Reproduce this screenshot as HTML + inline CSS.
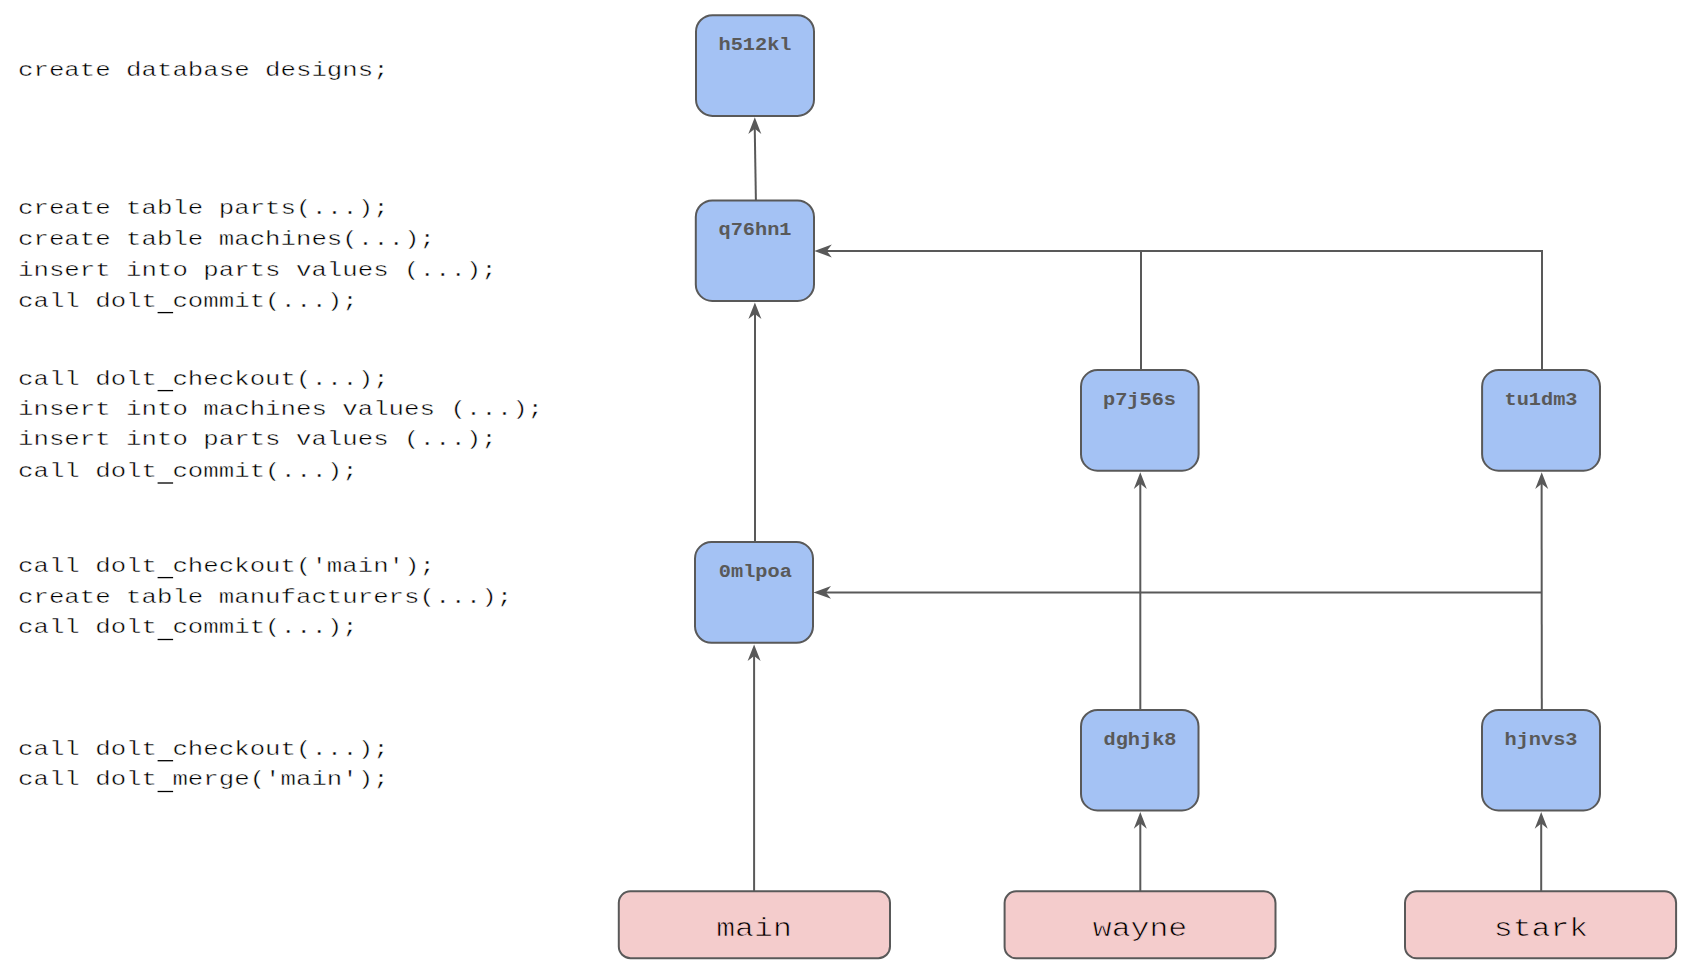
<!DOCTYPE html>
<html>
<head>
<meta charset="utf-8">
<style>
html,body{margin:0;padding:0;background:#fff;}
body{width:1696px;height:980px;overflow:hidden;position:relative;}
svg{position:absolute;left:0;top:0;}
.code{font-family:"Liberation Mono",monospace;font-size:25.75px;fill:#000;stroke:#fff;stroke-width:0.5px;}
.lbl{font-family:"Liberation Mono",monospace;font-size:20.3px;font-weight:bold;fill:#595959;}
.br{font-family:"Liberation Mono",monospace;font-size:31.5px;fill:#000;stroke:#f4cccc;stroke-width:0.8px;}
.node{fill:#a4c2f4;stroke:#595959;stroke-width:2;}
.bnode{fill:#f4cccc;stroke:#595959;stroke-width:2;}
.ln{stroke:#595959;stroke-width:2;fill:none;}
.ah{fill:#595959;stroke:none;}
</style>
</head>
<body>
<svg width="1696" height="980" viewBox="0 0 1696 980">
  <g class="code">
    <text transform="translate(18,75.8) scale(1,0.82)">create database designs;</text>
    <text transform="translate(18,214.3) scale(1,0.82)">create table parts(...);</text>
    <text transform="translate(18,245.2) scale(1,0.82)">create table machines(...);</text>
    <text transform="translate(18,276.0) scale(1,0.82)">insert into parts values (...);</text>
    <text transform="translate(18,306.5) scale(1,0.82)">call dolt&#160;commit(...);</text>
    <text transform="translate(18,384.5) scale(1,0.82)">call dolt&#160;checkout(...);</text>
    <text transform="translate(18,415.2) scale(1,0.82)">insert into machines values (...);</text>
    <text transform="translate(18,445.1) scale(1,0.82)">insert into parts values (...);</text>
    <text transform="translate(18,476.9) scale(1,0.82)">call dolt&#160;commit(...);</text>
    <text transform="translate(18,571.5) scale(1,0.82)">call dolt&#160;checkout('main');</text>
    <text transform="translate(18,602.7) scale(1,0.82)">create table manufacturers(...);</text>
    <text transform="translate(18,633.4) scale(1,0.82)">call dolt&#160;commit(...);</text>
    <text transform="translate(18,754.6) scale(1,0.82)">call dolt&#160;checkout(...);</text>
    <text transform="translate(18,785.4) scale(1,0.82)">call dolt&#160;merge('main');</text>
  </g>

  <g fill="#000">
    <rect x="157.6" y="311.95" width="15.5" height="1.3"/>
    <rect x="157.6" y="389.95" width="15.5" height="1.3"/>
    <rect x="157.6" y="482.35" width="15.5" height="1.3"/>
    <rect x="157.6" y="576.95" width="15.5" height="1.3"/>
    <rect x="157.6" y="638.85" width="15.5" height="1.3"/>
    <rect x="157.6" y="760.05" width="15.5" height="1.3"/>
    <rect x="157.6" y="790.85" width="15.5" height="1.3"/>
  </g>

  <!-- lines -->
  <g class="ln">
    <line x1="755.9" y1="200.4" x2="754.7" y2="125"/>
    <line x1="755" y1="542" x2="755" y2="310"/>
    <line x1="754.1" y1="891.2" x2="754.1" y2="652"/>
    <line x1="1140.3" y1="709.9" x2="1140.3" y2="480"/>
    <line x1="1140.3" y1="891.2" x2="1140.3" y2="819"/>
    <line x1="1541.8" y1="710" x2="1541.6" y2="480"/>
    <line x1="1541.2" y1="891.2" x2="1541.2" y2="819"/>
    <line x1="1141" y1="370" x2="1141" y2="251"/>
    <polyline points="1542,370 1542,251 822,251"/>
    <polyline points="1542,592.4 821,592.4"/>
  </g>

  <!-- nodes -->
  <rect class="node" x="696" y="15.2" width="118" height="100.7" rx="16.5" ry="16.5"/>
  <rect class="node" x="695.8" y="200.4" width="118.2" height="100.6" rx="16.5" ry="16.5"/>
  <rect class="node" x="695" y="542" width="118" height="100.8" rx="16.5" ry="16.5"/>
  <rect class="node" x="1081" y="370" width="117.6" height="100.7" rx="16.5" ry="16.5"/>
  <rect class="node" x="1482.1" y="370" width="117.9" height="100.7" rx="16.5" ry="16.5"/>
  <rect class="node" x="1081" y="709.9" width="117.5" height="100.6" rx="16.5" ry="16.5"/>
  <rect class="node" x="1482" y="710" width="118" height="100.5" rx="16.5" ry="16.5"/>

  <rect class="bnode" x="618.8" y="891.2" width="271.2" height="67.0" rx="11.6" ry="11.6"/>
  <rect class="bnode" x="1004.6" y="891.3" width="270.9" height="67.0" rx="11.6" ry="11.6"/>
  <rect class="bnode" x="1405" y="891.3" width="271.1" height="67.0" rx="11.6" ry="11.6"/>

  <!-- arrowheads -->
  <g class="ah">
    <path d="M754.8,117.3 L761.3,133.9 L754.8,128.8 L748.3,133.9 Z"/>
    <path d="M754.9,302.4 L761.4,319.0 L754.9,313.9 L748.4,319.0 Z"/>
    <path d="M754.1,644.4 L760.6,661.0 L754.1,655.9 L747.6,661.0 Z"/>
    <path d="M1140.3,472.3 L1146.8,488.9 L1140.3,483.8 L1133.8,488.9 Z"/>
    <path d="M1140.3,812.1 L1146.8,828.7 L1140.3,823.6 L1133.8,828.7 Z"/>
    <path d="M1541.7,472.3 L1548.2,488.9 L1541.7,483.8 L1535.2,488.9 Z"/>
    <path d="M1541.2,812.1 L1547.7,828.7 L1541.2,823.6 L1534.7,828.7 Z"/>
    <path d="M814.3,251.0 L831.8,244.6 L826.8,251.0 L831.8,257.4 Z"/>
    <path d="M813.5,592.4 L831.0,586.0 L826.0,592.4 L831.0,598.8 Z"/>
  </g>

  <g class="lbl" text-anchor="middle">
    <text transform="translate(755,234.9) scale(1,0.86)">q76hn1</text>
    <text transform="translate(755,49.9) scale(1,0.86)">h512kl</text>
    <text transform="translate(755.3,576.7) scale(1,0.86)">0mlpoa</text>
    <text transform="translate(1139.5,405) scale(1,0.86)">p7j56s</text>
    <text transform="translate(1541,405) scale(1,0.86)">tu1dm3</text>
    <text transform="translate(1140,745) scale(1,0.86)">dghjk8</text>
    <text transform="translate(1541,745) scale(1,0.86)">hjnvs3</text>
  </g>
  <g class="br" text-anchor="middle">
    <text transform="translate(754,936) scale(1,0.8)">main</text>
    <text transform="translate(1140,936) scale(1,0.8)">wayne</text>
    <text transform="translate(1541,936) scale(1,0.8)">stark</text>
  </g>
</svg>
</body>
</html>
